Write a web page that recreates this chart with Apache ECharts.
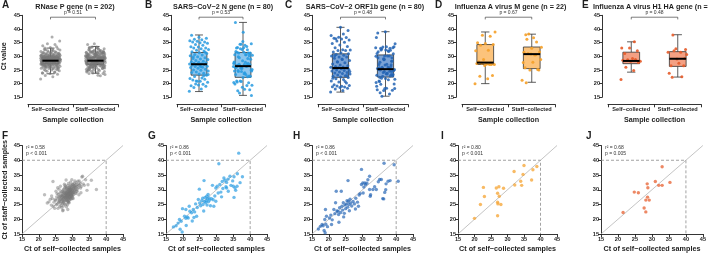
<!DOCTYPE html>
<html><head><meta charset="utf-8">
<script src="https://cdn.jsdelivr.net/npm/echarts@6/dist/echarts.min.js"></script>
<style>html,body{margin:0;padding:0;background:#fff}#c{width:709px;height:254px}</style>
</head><body><div id="c"></div><script>
// ---------------- DATA ----------------
const categories = ['Self\u2212collected', 'Staff\u2212collected'];
const panelTitles = ['RNase P gene (n = 202)', 'SARS\u2212CoV\u22122 N gene (n = 80)', 'SARS\u2212CoV\u22122 ORF1b gene (n = 80)', 'Influenza A virus M gene (n = 22)', 'Influenza A virus H1 HA gene (n = 15)'];
const topLetters = ['A', 'B', 'C', 'D', 'E'];
const bottomLetters = ['F', 'G', 'H', 'I', 'J'];
const pValues = ['p = 0.51', 'p = 0.53', 'p = 0.48', 'p = 0.67', 'p = 0.48'];
const r2Values = ['0.58', '0.86', '0.86', '0.80', '0.68'];
const corrP = ['p < 0.001', 'p < 0.001', 'p < 0.001', 'p < 0.001', 'p = 0.005'];
const axisTicks = [15, 20, 25, 30, 35, 40, 45];

// box stats [min, Q1, median, Q3, max] for self / staff
const rnaseBox = [[23.6, 27.3, 28.4, 29.7, 33.0], [23.8, 27.0, 28.4, 29.7, 33.6]];
const nGeneBox = [[17.1, 23.1, 27.1, 31.4, 37.8], [15.7, 22.3, 26.4, 31.4, 42.4]];
const orf1bBox = [[16.9, 22.3, 25.7, 30.9, 40.6], [15.4, 22.4, 25.3, 30.5, 39.0]];
const mGeneBox = [[20.0, 27.0, 27.7, 34.3, 38.9], [20.5, 25.5, 30.8, 33.4, 38.1]];
const haBox = [[24.2, 27.3, 28.3, 31.5, 35.3], [22.4, 26.3, 29.1, 31.7, 37.9]];

// paired Ct values [self, staff]
const rnasePairs = [
[21.7,28.3],[22.5,25.5],[23.0,25.9],[23.4,26.8],[23.7,24.8],[24.0,27.0],[24.2,32.8],[24.5,25.8],[24.7,23.7],[25.0,26.4],
[25.2,24.9],[25.3,27.6],[25.5,25.2],[25.6,26.9],[25.7,23.7],[25.8,28.4],[25.9,25.8],[26.0,27.3],[26.1,26.1],[26.2,26.5],
[26.3,28.9],[26.4,25.4],[26.5,27.8],[26.5,26.8],[26.6,24.6],[26.7,27.2],[26.8,28.1],[26.8,25.9],[26.9,26.6],[27.0,27.7],
[27.0,29.4],[27.1,26.2],[27.1,28.5],[27.2,23.1],[27.2,27.0],[27.3,25.6],[27.3,28.9],[27.4,27.4],[27.4,26.5],[27.5,28.1],
[27.5,30.2],[27.6,27.6],[27.6,25.2],[27.7,28.8],[27.7,26.9],[27.8,27.3],[27.8,29.6],[27.9,28.2],[27.9,26.3],[28.0,27.9],
[28.0,28.6],[28.0,31.0],[28.1,27.1],[28.1,29.2],[28.2,24.2],[28.2,28.4],[28.2,26.7],[28.3,27.8],[28.3,29.9],[28.3,28.9],
[28.4,27.4],[28.4,28.2],[28.4,30.5],[28.5,26.1],[28.5,28.7],[28.5,27.6],[28.6,29.3],[28.6,28.0],[28.6,26.9],[28.7,28.5],
[28.7,30.1],[28.7,27.2],[28.8,29.0],[28.8,28.3],[28.8,25.7],[28.9,27.9],[28.9,29.6],[28.9,28.6],[29.0,30.8],[29.0,28.1],
[29.0,27.4],[29.1,29.2],[29.1,28.8],[29.1,26.6],[29.2,30.3],[29.2,28.4],[29.2,29.7],[29.3,27.7],[29.3,31.2],[29.3,28.9],
[29.4,29.4],[29.4,27.1],[29.5,30.0],[29.5,28.6],[29.5,31.6],[29.6,29.1],[29.6,27.9],[29.7,30.6],[29.7,28.3],[29.8,29.8],
[29.8,31.3],[29.9,28.8],[29.9,30.2],[30.0,29.5],[30.0,27.5],[30.1,30.9],[30.1,29.0],[30.2,31.8],[30.2,28.4],[30.3,30.4],
[30.4,29.3],[30.5,31.1],[30.5,32.2],[30.6,29.8],[30.7,30.7],[30.8,28.9],[30.9,31.5],[31.0,30.1],[31.1,32.4],[31.2,29.6],
[31.3,31.0],[31.5,30.3],[31.6,32.9],[31.8,31.7],[32.1,31.5],[32.4,30.6],[32.8,34.3],[33.2,32.0],[33.9,33.4],[34.3,29.8],
[34.6,31.7],[35.6,33.2],[37.1,30.1],[26.9,28.0],[27.0,25.3],[27.2,29.9],[27.5,26.0],[27.7,30.8],[27.9,27.5],[28.0,25.0],
[28.1,28.9],[28.3,26.4],[28.4,29.5],[28.6,31.4],[28.7,26.0],[28.9,27.3],[29.0,29.9],[29.1,30.6],[29.2,27.2],[29.4,28.5],
[29.5,26.8],[29.6,30.5],[29.7,29.3],[29.8,27.8],[30.0,31.9],[30.1,28.1],[30.3,29.1],[30.4,31.4],[30.6,30.0],[30.8,30.9],
[31.0,28.7],[31.2,31.8],[31.4,29.4],[31.7,30.8],[32.0,33.0],[32.3,32.2],[32.6,31.1],[33.0,34.6],[26.2,24.3],[26.6,29.3],
[27.3,24.5],[27.8,31.5],[28.2,30.6],[28.5,24.9],[28.8,32.1],[29.0,25.6],[29.3,30.0],[29.6,28.0],[30.2,27.0],[25.4,28.7],
[24.8,26.6],[25.1,29.5],[26.0,30.2],[23.8,27.9],[24.3,24.4],[29.8,33.4],[30.7,33.0],[31.9,28.3],[32.5,29.0],[33.5,31.5],
[29.4,32.6],[28.1,33.3],[27.6,31.9],[26.4,31.2],[25.6,30.7],[27.1,22.9],[26.8,23.9],[28.6,23.3],[27.4,29.1],[28.9,26.2],
[29.9,27.0],[26.1,27.7]
];
const nGenePairs = [
[17.2,17.4],[18.0,17.8],[18.6,18.7],[19.0,19.9],[19.5,19.3],[19.2,16.6],[19.8,15.7],[19.9,23.6],[20.5,21.0],[20.9,20.3],
[21.3,20.8],[21.6,20.4],[20.9,23.3],[21.9,24.4],[22.1,22.7],[22.6,22.2],[23.1,23.3],[23.5,22.5],[24.1,21.0],[23.8,25.2],
[24.3,24.0],[24.6,26.7],[24.9,30.2],[25.0,25.5],[25.3,24.6],[25.6,26.3],[25.9,27.1],[26.0,25.0],[26.3,33.1],[26.4,26.0],
[26.6,27.4],[26.8,25.6],[27.0,26.3],[27.1,27.8],[27.2,24.8],[27.3,26.9],[27.5,28.4],[27.6,25.9],[27.8,27.2],[28.0,26.5],
[28.2,24.6],[28.5,27.0],[28.8,31.5],[29.0,26.6],[29.2,24.4],[29.5,27.9],[29.8,30.6],[30.2,31.2],[30.5,28.9],[30.7,38.8],
[31.0,31.8],[31.3,29.2],[31.7,32.8],[31.9,30.4],[32.2,34.0],[32.5,33.2],[32.8,31.0],[33.0,32.5],[33.0,30.6],[33.4,33.6],
[33.5,29.5],[34.0,34.6],[34.3,31.5],[34.8,33.0],[35.0,31.2],[35.2,34.4],[35.2,27.4],[35.5,30.6],[35.7,29.8],[36.1,31.2],
[36.2,35.4],[36.6,42.4],[37.0,32.4],[37.7,34.4],[22.8,19.4],[21.0,17.9],[23.3,20.6],[26.2,22.8],[29.8,26.1],[31.5,27.6]
];
const orf1bPairs = [
[16.9,16.7],[17.5,17.6],[18.0,18.2],[18.3,17.8],[18.6,16.2],[18.9,15.4],[18.8,19.9],[19.1,18.3],[19.3,21.0],[19.0,23.3],
[19.6,17.5],[20.2,20.4],[20.6,21.4],[21.0,19.8],[21.5,23.3],[21.8,21.9],[22.2,29.5],[22.4,22.8],[22.7,22.7],[22.9,21.6],
[23.2,23.9],[23.5,22.3],[23.7,29.5],[23.9,24.4],[24.1,23.1],[24.3,25.6],[24.6,22.0],[24.8,24.8],[25.0,23.6],[25.2,25.2],
[25.4,26.3],[25.6,24.1],[25.7,33.1],[25.8,26.1],[26.0,25.0],[26.1,22.9],[26.3,26.8],[26.5,25.5],[26.8,24.5],[27.2,26.0],
[27.6,25.2],[28.0,27.1],[28.5,25.8],[29.0,28.2],[29.3,28.7],[29.7,36.9],[29.7,31.8],[30.1,32.3],[30.4,30.9],[30.7,32.3],
[30.9,31.7],[31.3,32.2],[31.6,33.4],[32.1,34.6],[32.1,30.1],[32.3,27.8],[32.4,28.3],[33.1,30.1],[33.6,31.0],[34.1,30.1],
[34.7,32.7],[35.1,33.5],[35.6,33.5],[36.0,27.0],[36.3,26.9],[36.6,29.1],[36.9,30.0],[37.0,32.0],[37.6,32.9],[38.2,33.1],
[36.4,39.0],[39.4,38.5],[40.6,32.9],[22.0,25.6],[20.8,18.2],[27.9,23.5],[24.4,20.8],[28.8,24.4],[30.2,28.9],[23.0,19.0]
];
const mGenePairs = [
[20.0,20.3],[21.8,25.0],[22.7,30.8],[23.0,27.7],[26.6,30.6],[27.4,31.0],[27.0,28.8],[27.5,27.8],[27.0,25.8],[27.1,25.2],
[28.0,25.0],[27.0,21.2],[28.8,30.5],[32.0,36.2],[32.2,31.6],[34.0,32.9],[34.3,31.5],[34.7,35.2],[35.0,38.2],[37.3,33.3],
[37.7,36.8],[38.9,37.9]
];
const haPairs = [
[21.5,22.3],[24.8,29.2],[26.0,29.0],[27.7,23.8],[28.2,22.5],[28.6,32.0],[28.8,30.7],[28.7,27.5],[28.2,26.5],[29.2,26.5],
[31.0,32.8],[32.0,31.5],[33.0,31.5],[33.0,37.8],[35.3,32.5]
];

// ---------------- LAYOUT / STYLE ----------------
const FONT = 'Liberation Sans, Arial, sans-serif';
const INK = '#1e1e1e';
const allPairs = [rnasePairs, nGenePairs, orf1bPairs, mGenePairs, haPairs];
const allBoxes = [rnaseBox, nGeneBox, orf1bBox, mGeneBox, haBox];
const dotColors = ['rgba(120,120,120,0.6)', 'rgba(40,155,225,0.85)', 'rgba(35,100,180,0.85)', 'rgba(245,160,40,0.9)', 'rgba(230,90,40,0.9)'];
const boxFills = ['#cfcfcf', '#8dc6ee', '#7ba3d6', '#fcc37b', '#f4a083'];
const topGrid = [{l:28,w:90},{l:177,w:88},{l:318,w:90},{l:462,w:93},{l:608,w:93}];
const botGrid = [{l:22,w:101},{l:166,w:101},{l:312,w:101},{l:458,w:99},{l:601,w:102}];
const topLetterX = [2, 145, 285, 435, 582];
const botLetterX = [2, 148, 293, 441, 586];

const grids = [], xAxes = [], yAxes = [], series = [], graphics = [];

const axisLineStyle = {lineStyle:{color:INK, width:0.9}};
const tickStyle = {show:true, length:3, lineStyle:{color:INK, width:0.9}};

for (let i = 0; i < 5; i++) {
  const g = topGrid[i];
  grids.push({left:g.l, width:g.w, top:15.3, height:82});
  xAxes.push({type:'category', gridIndex:i, data:categories, offset:7,
    axisLine:axisLineStyle, axisTick:Object.assign({alignWithLabel:false}, tickStyle),
    axisLabel:{interval:0, fontSize:5.6, fontWeight:'bold', color:INK, margin:2, fontFamily:FONT},
    name:'Sample collection', nameLocation:'middle', nameGap:12,
    nameTextStyle:{fontSize:7.2, fontWeight:'bold', color:INK, fontFamily:FONT}});
  yAxes.push({type:'value', gridIndex:i, min:15, max:45, interval:5, offset:6,
    axisLine:{show:true, lineStyle:{color:INK, width:0.9}}, axisTick:tickStyle, splitLine:{show:false},
    axisLabel:{fontSize:5.6, fontWeight:'bold', color:INK, margin:2, fontFamily:FONT},
    name: i === 0 ? 'Ct value' : '', nameLocation:'middle', nameGap:14, nameRotate:90,
    nameTextStyle:{fontSize:7.2, fontWeight:'bold', color:INK, fontFamily:FONT}});

  const boxData = allBoxes[i].map((b, k) => [k].concat(b));
  const fill = boxFills[i];
  series.push({type:'custom', xAxisIndex:i, yAxisIndex:i, z:2, silent:true, data:boxData,
    renderItem:(p, api) => {
      const cat = api.value(0);
      const bw = api.size([1, 0])[0];
      const half = bw * 0.18, cap = bw * 0.09;
      const cx = api.coord([cat, api.value(3)])[0];
      const y = k => api.coord([cat, api.value(k)])[1];
      const ls = {stroke:'#333', lineWidth:0.8};
      return {type:'group', children:[
        {type:'line', shape:{x1:cx, y1:y(5), x2:cx, y2:y(4)}, style:ls},
        {type:'line', shape:{x1:cx, y1:y(2), x2:cx, y2:y(1)}, style:ls},
        {type:'line', shape:{x1:cx-cap, y1:y(5), x2:cx+cap, y2:y(5)}, style:ls},
        {type:'line', shape:{x1:cx-cap, y1:y(1), x2:cx+cap, y2:y(1)}, style:ls},
        {type:'rect', shape:{x:cx-half, y:y(4), width:2*half, height:y(2)-y(4)}, style:{fill:fill, stroke:'#333', lineWidth:0.8}}
      ]};
    }});

  const dots = [];
  allPairs[i].forEach((pr, k) => { dots.push([0, pr[0], k]); dots.push([1, pr[1], k + 0.37]); });
  const dc = dotColors[i];
  series.push({type:'custom', xAxisIndex:i, yAxisIndex:i, z:3, silent:true, data:dots,
    renderItem:(p, api) => {
      const pt = api.coord([api.value(0), api.value(1)]);
      const bw = api.size([1, 0])[0];
      const j = ((api.value(2) * 0.6180339887) % 1) - 0.5;
      return {type:'circle', shape:{cx:pt[0] + j * bw * 0.44, cy:pt[1], r:1.5}, style:{fill:dc}};
    }});

  series.push({type:'custom', xAxisIndex:i, yAxisIndex:i, z:4, silent:true, data:boxData,
    renderItem:(p, api) => {
      const cat = api.value(0);
      const bw = api.size([1, 0])[0];
      const half = bw * 0.18;
      const pt = api.coord([cat, api.value(3)]);
      return {type:'line', shape:{x1:pt[0]-half, y1:pt[1], x2:pt[0]+half, y2:pt[1]}, style:{stroke:'#000', lineWidth:2}};
    }});

  const pv = pValues[i];
  series.push({type:'custom', xAxisIndex:i, yAxisIndex:i, z:5, silent:true, data:[[0, 1]],
    renderItem:(p, api) => {
      const a = api.coord([0, 44.3]), b = api.coord([1, 44.3]);
      const t = api.coord([0, 43.5])[1];
      const tx = api.coord([0, 45.8])[1];
      const ls = {stroke:'#444', lineWidth:0.7};
      return {type:'group', children:[
        {type:'line', shape:{x1:a[0], y1:a[1], x2:b[0], y2:b[1]}, style:ls},
        {type:'line', shape:{x1:a[0], y1:a[1], x2:a[0], y2:t}, style:ls},
        {type:'line', shape:{x1:b[0], y1:b[1], x2:b[0], y2:t}, style:ls},
        {type:'text', style:{x:(a[0]+b[0])/2, y:tx, text:pv, fontSize:5, fill:'#333', align:'center', verticalAlign:'middle', fontFamily:FONT}}
      ]};
    }});

  graphics.push({type:'text', left:topLetterX[i], top:0, style:{text:topLetters[i], fontSize:10, fontWeight:'bold', fill:INK, fontFamily:FONT}});
  graphics.push({type:'text', x:g.l + g.w/2 + 2, y:7, style:{text:panelTitles[i], fontSize:7.2, fontWeight:'bold', fill:INK, align:'center', verticalAlign:'middle', fontFamily:FONT}});
}

for (let i = 0; i < 5; i++) {
  const gi = 5 + i;
  const g = botGrid[i];
  grids.push({left:g.l, width:g.w, top:145.5, height:88.5});
  xAxes.push({type:'value', gridIndex:gi, min:15, max:45, interval:5,
    axisLine:axisLineStyle, axisTick:tickStyle, splitLine:{show:false},
    axisLabel:{fontSize:5.6, fontWeight:'bold', color:INK, margin:2, fontFamily:FONT},
    name:'Ct of self\u2212collected samples', nameLocation:'middle', nameGap:12,
    nameTextStyle:{fontSize:7.2, fontWeight:'bold', color:INK, fontFamily:FONT}});
  yAxes.push({type:'value', gridIndex:gi, min:15, max:45, interval:5,
    axisLine:{show:true, lineStyle:{color:INK, width:0.9}}, axisTick:tickStyle, splitLine:{show:false},
    axisLabel:{fontSize:5.6, fontWeight:'bold', color:INK, margin:2, fontFamily:FONT},
    name: i === 0 ? 'Ct of staff\u2212collected samples' : '', nameLocation:'middle', nameGap:13, nameRotate:90,
    nameTextStyle:{fontSize:7.2, fontWeight:'bold', color:INK, fontFamily:FONT}});

  series.push({type:'line', xAxisIndex:gi, yAxisIndex:gi, data:[[15,15],[45,45]], symbol:'none', silent:true, z:1,
    lineStyle:{color:'#b5b5b5', width:0.8}});
  series.push({type:'line', xAxisIndex:gi, yAxisIndex:gi, data:[[15,40],[40,40],[40,15]], symbol:'none', silent:true, z:1,
    lineStyle:{color:'#8c8c8c', width:0.8, type:[3,2]}});
  series.push({type:'scatter', xAxisIndex:gi, yAxisIndex:gi, data:allPairs[i], symbolSize:3.4, silent:true, z:3,
    itemStyle:{color:dotColors[i]}});
  const r2 = r2Values[i], cp = corrP[i];
  series.push({type:'custom', xAxisIndex:gi, yAxisIndex:gi, z:5, silent:true, data:[[0]],
    renderItem:(p, api) => {
      const pt = api.coord([16.2, 45.3]);
      return {type:'text', style:{x:pt[0], y:pt[1], text:'{i|r}\u00b2 = ' + r2 + '\n' + cp, fontSize:5, lineHeight:6, fill:'#333', align:'left', verticalAlign:'top', fontFamily:FONT,
        rich:{i:{fontStyle:'italic', fontSize:5, fontFamily:FONT, fill:'#333'}}}};
    }});

  graphics.push({type:'text', left:botLetterX[i], top:131, style:{text:bottomLetters[i], fontSize:10, fontWeight:'bold', fill:INK, fontFamily:FONT}});
}

const chart = echarts.init(document.getElementById('c'), null, {renderer:'canvas'});
chart.setOption({
  animation:false,
  backgroundColor:'#fff',
  textStyle:{fontFamily:FONT},
  grid:grids, xAxis:xAxes, yAxis:yAxes, series:series, graphic:graphics
});
</script></body></html>
